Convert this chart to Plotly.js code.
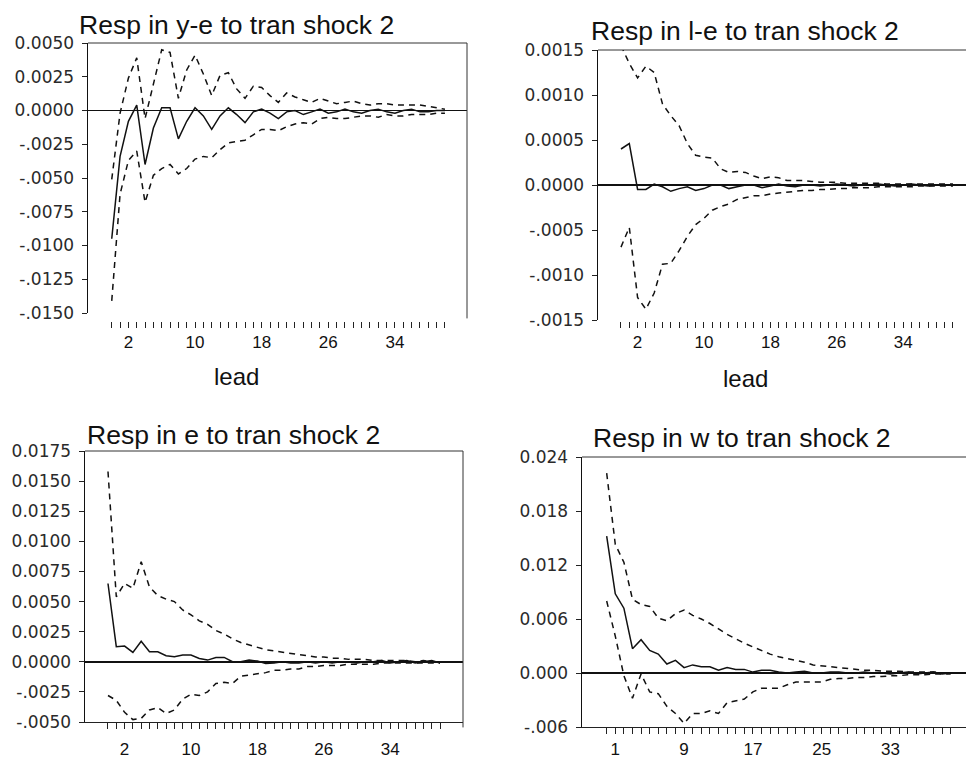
<!DOCTYPE html>
<html>
<head>
<meta charset="utf-8">
<script src="https://cdn.plot.ly/plotly-3.0.1.min.js"></script>
<style>
  html, body { margin: 0; padding: 0; background: #ffffff; }
  #chart { width: 966px; height: 760px; }
</style>
</head>
<body>
<div id="chart"></div>
<script>
// ---------- data ----------
const leads = [0,1,2,3,4,5,6,7,8,9,10,11,12,13,14,15,16,17,18,19,20,21,22,23,24,25,26,27,28,29,30,31,32,33,34,35,36,37,38,39,40];

const titles = ["Resp in y-e to tran shock 2", "Resp in l-e to tran shock 2", "Resp in e to tran shock 2", "Resp in w to tran shock 2"];
const xAxisTitle = "lead";

// Panel 1: y-e
const yeResp  = [-0.0095,-0.0034,-0.0008,0.0004,-0.0040,-0.0013,0.0002,0.0002,-0.0021,-0.0008,0.0002,-0.0004,-0.0014,-0.0004,0.0002,-0.0003,-0.0009,-0.0001,0.0001,-0.0002,-0.0006,-0.0001,0.0000,-0.0003,-0.0001,0.0001,-0.0002,-0.0001,0.0001,-0.0001,-0.0002,0.0000,0.0001,-0.0001,-0.0002,0.0000,0.0001,-0.0001,-0.0001,0.0000,0.0000];
const yeUpper = [-0.0051,-0.0002,0.0024,0.0039,-0.0006,0.0020,0.0045,0.0043,0.0009,0.0030,0.0041,0.0027,0.0011,0.0026,0.0028,0.0016,0.0009,0.0018,0.0017,0.0011,0.0006,0.0013,0.0010,0.0008,0.0006,0.0009,0.0007,0.0005,0.0006,0.0007,0.0005,0.0004,0.0005,0.0005,0.0004,0.0004,0.0004,0.0004,0.0003,0.0002,0.0001];
const yeLower = [-0.0141,-0.0062,-0.0037,-0.0030,-0.0068,-0.0048,-0.0043,-0.0040,-0.0047,-0.0043,-0.0036,-0.0034,-0.0035,-0.0029,-0.0024,-0.0023,-0.0022,-0.0018,-0.0014,-0.0014,-0.0015,-0.0012,-0.0010,-0.0009,-0.0010,-0.0006,-0.0005,-0.0006,-0.0006,-0.0005,-0.0004,-0.0004,-0.0005,-0.0003,-0.0004,-0.0004,-0.0003,-0.0003,-0.0003,-0.0002,-0.0002];

// Panel 2: l-e
const leResp  = [0.0004,0.00046,-0.00005,-0.00005,0.00001,-0.00002,-0.00007,-0.00004,-0.00002,-0.00006,-0.00004,0,0,-0.00004,-0.00002,0,0,-0.00003,-0.00001,0.00001,-0.00001,-0.00002,0,0,-0.00001,0,0.00001,0,-0.00001,0,0,0.00001,0,-0.00001,0,0.00001,0,-0.00001,0,0,0];
const leUpper = [0.00155,0.00135,0.00119,0.00132,0.00125,0.0009,0.00077,0.00066,0.00046,0.00033,0.00031,0.0003,0.00018,0.00014,0.00015,0.00014,0.0001,0.00007,0.00009,0.00008,0.00005,0.00005,0.00005,0.00004,0.00003,0.00003,0.00003,0.00002,0.00002,0.00002,0.00002,0.00002,0.00001,0.00001,0.00001,0.00001,0.00001,0.00001,0.00001,0.00001,0.00001];
const leLower = [-0.00069,-0.00047,-0.00125,-0.00138,-0.0012,-0.00088,-0.00087,-0.00073,-0.00057,-0.00044,-0.00037,-0.00028,-0.00024,-0.00021,-0.00016,-0.00014,-0.00012,-0.00012,-0.0001,-0.00009,-0.00008,-0.00007,-0.00006,-0.00006,-0.00005,-0.00005,-0.00004,-0.00004,-0.00003,-0.00003,-0.00003,-0.00002,-0.00002,-0.00002,-0.00002,-0.00002,-0.00001,-0.00001,-0.00001,-0.00001,-0.00001];

// Panel 3: e
const eResp  = [0.0065,0.00125,0.0013,0.00078,0.0017,0.00083,0.00083,0.0005,0.00042,0.00056,0.00056,0.00028,0.00014,0.00036,0.00036,0.0000,0.0000,0.00014,0.00006,-0.00014,-0.0001,0.0000,-0.0001,-0.0001,0.0000,-0.0001,0.0000,-0.0001,0.0000,0.0000,-0.0001,0.0000,0.0000,0.0001,-0.0001,0.0000,0.0001,-0.0001,0.0000,0.0001,-0.0001];
const eUpper = [0.0158,0.0054,0.0065,0.0061,0.0083,0.0062,0.0055,0.0052,0.0050,0.0043,0.0039,0.0034,0.0031,0.0026,0.0023,0.0019,0.0016,0.0014,0.0012,0.0010,0.0009,0.0008,0.0007,0.0006,0.0005,0.0004,0.0004,0.0003,0.0003,0.0002,0.0002,0.0002,0.0001,0.0001,0.0001,0.0001,0.0001,0.0000,0.0001,0.0000,0.0000];
const eLower = [-0.0028,-0.0032,-0.0042,-0.0048,-0.0047,-0.0040,-0.0038,-0.0043,-0.0040,-0.0031,-0.0027,-0.0028,-0.0025,-0.0018,-0.0017,-0.0018,-0.0012,-0.0011,-0.0010,-0.0009,-0.0007,-0.0007,-0.0006,-0.0006,-0.0004,-0.0004,-0.0003,-0.0003,-0.0003,-0.0002,-0.0002,-0.0002,-0.0002,-0.0001,-0.0001,-0.0001,-0.0001,-0.0001,-0.0001,-0.0001,-0.0001];

// Panel 4: w
const wResp  = [0.0152,0.0088,0.0072,0.0027,0.0037,0.0025,0.0021,0.0010,0.0014,0.0006,0.0009,0.0007,0.0007,0.0003,0.0006,0.0004,0.0004,0.0001,0.0003,0.0003,0.0001,0.0000,0.0001,0.0002,0.0000,0.0000,0.0001,0.0001,0.0000,0.0000,0.0001,0.0000,0.0000,-0.0001,0.0000,0.0001,-0.0001,0.0000,0.0001,-0.0001,0.0000];
const wUpper = [0.0222,0.0143,0.0123,0.0082,0.0076,0.0074,0.0061,0.0058,0.0066,0.0070,0.0064,0.0060,0.0055,0.0049,0.0043,0.0038,0.0033,0.0029,0.0025,0.0021,0.0018,0.0016,0.0014,0.0012,0.0009,0.0008,0.0007,0.0006,0.0005,0.0004,0.0003,0.0003,0.0002,0.0002,0.0002,0.0001,0.0001,0.0001,0.0001,0.0000,0.0000];
const wLower = [0.0080,0.0041,-0.0003,-0.0028,-0.0001,-0.0021,-0.0023,-0.0037,-0.0045,-0.0056,-0.0045,-0.0045,-0.0042,-0.0045,-0.0033,-0.0031,-0.0029,-0.0021,-0.0017,-0.0017,-0.0017,-0.0013,-0.0010,-0.0010,-0.0010,-0.0010,-0.0007,-0.0006,-0.0006,-0.0005,-0.0005,-0.0004,-0.0004,-0.0003,-0.0003,-0.0002,-0.0002,-0.0002,-0.0001,-0.0001,-0.0001];

// tick labels
const xLabelsA = [2, 10, 18, 26, 34];
const xLabelsW = [1, 9, 17, 25, 33];
const yeTickVals = [0.005, 0.0025, 0, -0.0025, -0.005, -0.0075, -0.01, -0.0125, -0.015];
const yeTickText = ["0.0050", "0.0025", "0.0000", "-.0025", "-.0050", "-.0075", "-.0100", "-.0125", "-.0150"];
const leTickVals = [0.0015, 0.001, 0.0005, 0, -0.0005, -0.001, -0.0015];
const leTickText = ["0.0015", "0.0010", "0.0005", "0.0000", "-.0005", "-.0010", "-.0015"];
const eTickVals = [0.0175, 0.015, 0.0125, 0.01, 0.0075, 0.005, 0.0025, 0, -0.0025, -0.005];
const eTickText = ["0.0175", "0.0150", "0.0125", "0.0100", "0.0075", "0.0050", "0.0025", "0.0000", "-.0025", "-.0050"];
const wTickVals = [0.024, 0.018, 0.012, 0.006, 0, -0.006];
const wTickText = ["0.024", "0.018", "0.012", "0.006", "0.000", "-.006"];

// ---------- layout geometry (page pixels) ----------
const W = 966, H = 760;
const px = v => v / W;
const py = v => 1 - v / H;

const panels = [
  { resp: yeResp, up: yeUpper, lo: yeLower, title: titles[0], xl: xLabelsA,
    yv: yeTickVals, yt: yeTickText, yr: [-0.015, 0.005],
    left: 88, right: 467, top: 43, bottom: 313, xr: [-2.85, 42.65],
    tickRow: 321, rightLine: true, lead: true,
    tx: 236, ty: 25, lx: 236, ly: 376, xStand: 0 },
  { resp: leResp, up: leUpper, lo: leLower, title: titles[1], xl: xLabelsA,
    yv: leTickVals, yt: leTickText, yr: [-0.0015, 0.0015],
    left: 598, right: 966, top: 50, bottom: 320, xr: [-2.77, 41.57],
    tickRow: 321, rightLine: false, lead: true,
    tx: 745, ty: 31, lx: 745, ly: 378, xStand: 0 },
  { resp: eResp, up: eUpper, lo: eLower, title: titles[2], xl: xLabelsA,
    yv: eTickVals, yt: eTickText, yr: [-0.005, 0.0175],
    left: 85, right: 463, top: 451, bottom: 722, xr: [-2.77, 42.77],
    tickRow: null, rightLine: true, lead: false,
    tx: 233, ty: 435, xStand: 6 },
  { resp: wResp, up: wUpper, lo: wLower, title: titles[3], xl: xLabelsW,
    yv: wTickVals, yt: wTickText, yr: [-0.006, 0.024],
    left: 582, right: 966, top: 457, bottom: 727, xr: [-2.87, 41.78],
    tickRow: null, rightLine: false, lead: false,
    tx: 742, ty: 438, xStand: 1 }
];

const ink = '#111111';
const traces = [];
const layout = {
  width: W, height: H, autosize: false,
  margin: { l: 0, r: 0, t: 0, b: 0, pad: 0 },
  paper_bgcolor: '#ffffff', plot_bgcolor: '#ffffff',
  showlegend: false,
  shapes: [], annotations: []
};

panels.forEach((p, i) => {
  const n = i + 1;
  const xa = 'x' + (n === 1 ? '' : n);
  const ya = 'y' + (n === 1 ? '' : n);
  const xKey = 'xaxis' + (n === 1 ? '' : n);
  const yKey = 'yaxis' + (n === 1 ? '' : n);

  traces.push({ x: leads, y: p.resp, xaxis: xa, yaxis: ya, type: 'scatter', mode: 'lines',
    line: { color: ink, width: 1.5 }, hoverinfo: 'skip' });
  traces.push({ x: leads, y: p.up, xaxis: xa, yaxis: ya, type: 'scatter', mode: 'lines',
    line: { color: ink, width: 1.5, dash: '6px,5px' }, hoverinfo: 'skip' });
  traces.push({ x: leads, y: p.lo, xaxis: xa, yaxis: ya, type: 'scatter', mode: 'lines',
    line: { color: ink, width: 1.5, dash: '6px,5px' }, hoverinfo: 'skip' });

  const xaxis = {
    domain: [px(p.left), px(p.right)], range: p.xr,
    showgrid: false, zeroline: false,
    tickmode: 'array', tickvals: leads,
    ticktext: leads.map(v => p.xl.includes(v) ? String(v) : ''),
    ticks: 'outside', ticklen: 6, tickwidth: 1, tickcolor: '#222',
    tickfont: { family: 'Liberation Sans, Arial, sans-serif', size: 17, color: ink },
    ticklabelstandoff: p.xStand,
    fixedrange: true
  };
  if (p.tickRow !== null) {
    xaxis.anchor = 'free';
    xaxis.position = py(p.tickRow);
    xaxis.showline = false;
  } else {
    xaxis.anchor = ya;
    xaxis.showline = true;
    xaxis.linecolor = '#222';
    xaxis.linewidth = 1;
  }
  layout[xKey] = xaxis;

  layout[yKey] = {
    domain: [py(p.bottom), py(p.top)], range: p.yr, anchor: xa,
    showgrid: false,
    zeroline: true, zerolinecolor: ink, zerolinewidth: 1.5,
    showline: true, linecolor: ink, linewidth: 1.5,
    tickmode: 'array', tickvals: p.yv, ticktext: p.yt,
    ticks: 'outside', ticklen: 5, tickwidth: 1, tickcolor: '#222',
    tickfont: { family: 'DejaVu Sans, sans-serif', size: 17, color: '#2a2a2a' },
    ticklabelstandoff: 4,
    fixedrange: true
  };

  // frame: top edge (and right edge where visible)
  layout.shapes.push({ type: 'line', xref: xa + ' domain', yref: ya + ' domain',
    x0: 0, x1: 1, y0: 1, y1: 1, line: { color: '#333', width: 1 } });
  if (p.rightLine) {
    layout.shapes.push({ type: 'line', xref: xa + ' domain', yref: ya + ' domain',
      x0: 1, x1: 1, y0: -0.02, y1: 1, line: { color: '#333', width: 1 } });
  }

  layout.annotations.push({ text: p.title, xref: 'paper', yref: 'paper',
    x: px(p.tx), y: py(p.ty), xanchor: 'center', yanchor: 'middle', showarrow: false,
    font: { family: 'Liberation Sans, Arial, sans-serif', size: 26.5, color: ink } });
  if (p.lead) {
    layout.annotations.push({ text: xAxisTitle, xref: 'paper', yref: 'paper',
      x: px(p.lx), y: py(p.ly), xanchor: 'center', yanchor: 'middle', showarrow: false,
      font: { family: 'Liberation Sans, Arial, sans-serif', size: 24, color: ink } });
  }
});

Plotly.newPlot('chart', traces, layout, { staticPlot: true, displayModeBar: false });
</script>
</body>
</html>
